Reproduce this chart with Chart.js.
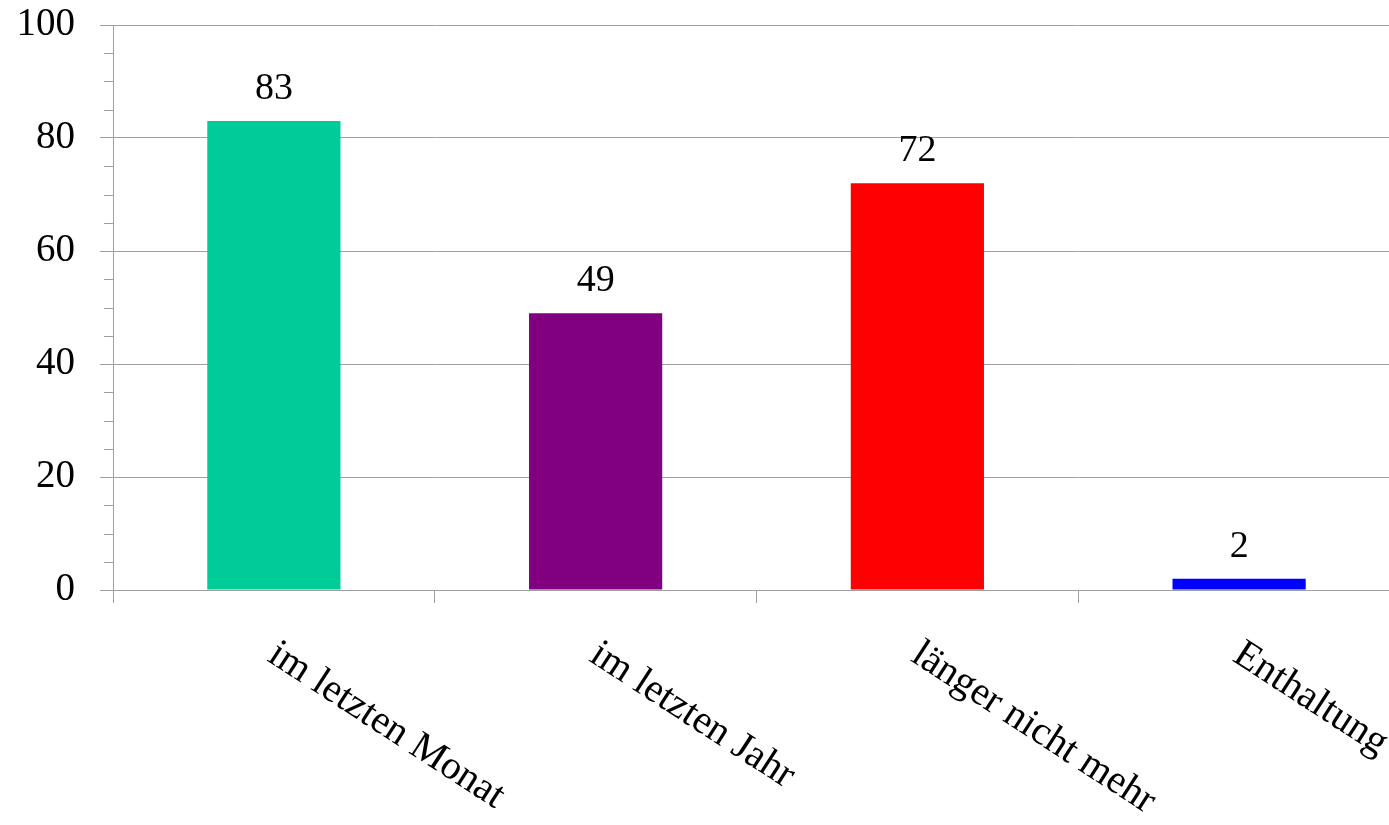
<!DOCTYPE html>
<html>
<head>
<meta charset="utf-8">
<script src="https://cdn.jsdelivr.net/npm/chart.js@4/dist/chart.umd.min.js"></script>
<style>
    html, body {margin: 0; padding: 0; background: #fff; overflow: hidden;}
    #wrap {width: 1400px; height: 825px;}
</style>
</head>
<body>
<div id="wrap"><canvas id="barChart" width="1400" height="825"></canvas></div>
<script>
const categories = ['im letzten Monat', 'im letzten Jahr', 'länger nicht mehr', 'Enthaltung'];
const values = [83, 49, 72, 2];
const barColors = ['#00CC99', '#800080', '#FF0000', '#0000FF'];
const yTicks = [0, 20, 40, 60, 80, 100];
const minorStep = 5;

const font = 'Liberation Serif, Times New Roman, serif';
const gridColor = '#a0a0a0';

// small ticks between the labelled ones on the y axis
const minorTicks = {
    id: 'minorTicks',
    afterDraw(chart) {
        const y = chart.scales.y;
        const ctx = chart.ctx;
        ctx.save();
        ctx.strokeStyle = gridColor;
        ctx.lineWidth = 1;
        for (let v = y.min; v <= y.max; v += minorStep) {
            if (yTicks.indexOf(v) >= 0) continue;
            const py = Math.round(y.getPixelForValue(v)) + 0.5;
            ctx.beginPath();
            ctx.moveTo(y.right - 9, py);
            ctx.lineTo(y.right, py);
            ctx.stroke();
        }
        ctx.restore();
    }
};

// value on top of each bar and slanted category names
const labels = {
    id: 'labels',
    afterDatasetsDraw(chart) {
        const ctx = chart.ctx;
        const meta = chart.getDatasetMeta(0);
        const x = chart.scales.x;
        ctx.save();
        ctx.fillStyle = '#000';
        ctx.font = '38px ' + font;
        ctx.textAlign = 'center';
        ctx.textBaseline = 'alphabetic';
        meta.data.forEach((bar, i) => {
            ctx.fillText(String(values[i]), bar.x, bar.y - 22);
        });
        ctx.font = '40px ' + font;
        ctx.textAlign = 'left';
        categories.forEach((c, i) => {
            const px = x.getPixelForValue(i);
            ctx.save();
            ctx.translate(px - 8, 660);
            ctx.rotate(33 * Math.PI / 180);
            ctx.fillText(c, 0, 0);
            ctx.restore();
        });
        ctx.restore();
    }
};

new Chart(document.getElementById('barChart'), {
    type: 'bar',
    data: {
        labels: categories,
        datasets: [{
            data: values,
            backgroundColor: barColors,
            borderWidth: 0,
            barPercentage: 0.414,
            categoryPercentage: 1
        }]
    },
    options: {
        responsive: false,
        animation: false,
        layout: {padding: {top: 25, right: 0, bottom: 0, left: 0}},
        plugins: {
            legend: {display: false},
            tooltip: {enabled: false}
        },
        scales: {
            x: {
                grid: {
                    display: true,
                    drawOnChartArea: false,
                    drawTicks: true,
                    tickLength: 13,
                    color: gridColor,
                    offset: true
                },
                border: {display: true, color: gridColor, width: 1},
                ticks: {display: false},
                afterFit(scale) {
                    scale.height = 235;
                    scale.paddingLeft = 0;
                    scale.paddingRight = 0;
                }
            },
            y: {
                min: 0,
                max: 100,
                ticks: {
                    stepSize: 20,
                    padding: 25,
                    color: '#000',
                    font: {family: font, size: 39}
                },
                grid: {
                    color: gridColor,
                    tickLength: 13,
                    lineWidth: 1
                },
                border: {display: true, color: gridColor, width: 1},
                afterFit(scale) {
                    scale.width = 113;
                    scale.paddingTop = 0;
                    scale.paddingBottom = 0;
                }
            }
        }
    },
    plugins: [minorTicks, labels]
});
</script>
</body>
</html>
